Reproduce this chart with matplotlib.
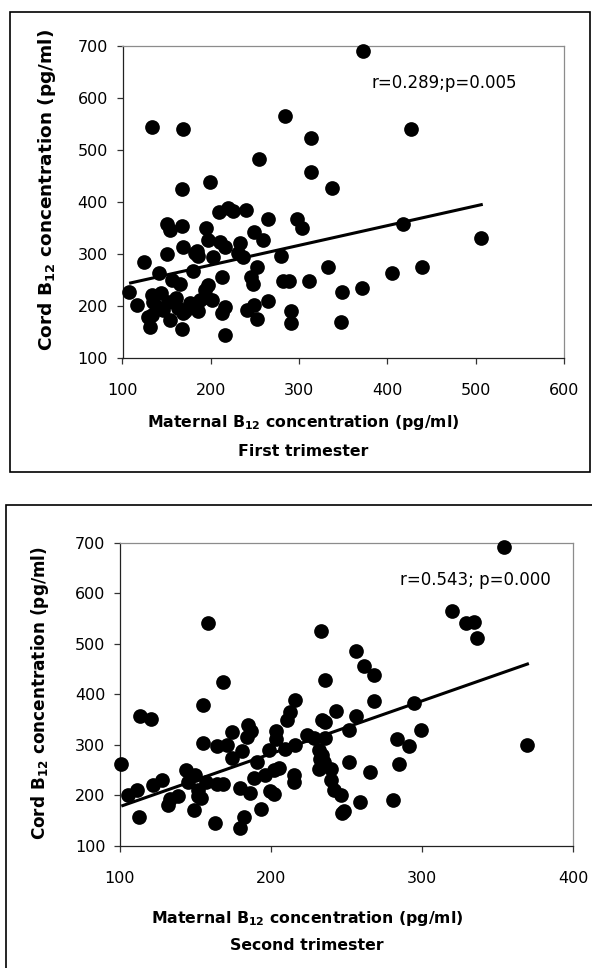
import matplotlib
matplotlib.use("Agg")
import matplotlib.pyplot as plt
from matplotlib.patches import Rectangle

# 第1三半期のデータ (maternal, cord)
first_maternal = [107.5, 116, 124, 133, 169, 141.7, 150, 150, 154, 167,
                  167, 169, 155.7, 165, 180, 182, 186, 195, 199, 197,
                  203, 209, 220, 225.5, 240, 210.5, 216, 233, 231, 236,
                  249, 259, 265, 255, 252, 246, 248, 213, 212.4, 216,
                  216, 240.6, 249, 252, 265, 280, 281.5, 288, 284, 290.5,
                  290.5, 298, 303, 311.5, 313, 314, 333, 337.6, 349, 348,
                  372, 426.7, 418, 505.6, 438.8, 405.6, 371.6, 131, 133, 135,
                  133, 138.7, 144, 146, 152, 153.8, 161, 163, 169, 167,
                  176.5, 186, 188, 193, 197, 201, 129, 170.8, 195, 184]
first_cord = [227, 202, 285, 543, 540, 264, 300, 357, 346, 353,
              424, 314, 250, 243, 267, 303, 297, 351, 439, 327,
              295, 380, 388, 382, 385, 324, 313, 321, 303, 295,
              343, 328, 367, 483, 275, 257, 243, 257, 186, 198,
              145, 193, 202, 175, 210, 296, 249, 249, 565, 190,
              167, 367, 351, 249, 522, 458, 275, 426, 228, 170,
              690, 540, 357, 331.5, 275, 263, 234, 161, 222, 209,
              183, 199, 225, 193, 209, 174, 215, 196, 186, 156,
              206, 191, 212, 231, 241, 212, 180, 190, 218, 305]
first_fit_x = [107.5, 508]
first_fit_y = [244, 395.5]
first_note = "r=0.289;p=0.005"

# 第2三半期のデータ
second_maternal = [100.9, 105.3, 111.5, 112.4, 113, 120.4, 122, 128, 132, 133,
                   138.6, 144, 149.6, 145, 148.7, 153.6, 151.7, 155, 155, 158,
                   168, 163, 164.5, 171, 174, 174, 157, 164, 168, 179.6,
                   182, 179.6, 186, 180.7, 185, 187, 184, 190.6, 188.4, 196.2,
                   199.5, 201.7, 193, 198.4, 203.5, 203, 209.5, 205, 201.7, 215,
                   215, 210.6, 212.8, 216, 216, 223.8, 228.3, 232.8, 236, 233.4,
                   236, 242.7, 236, 231.6, 234, 232.5, 235, 231.6, 239.4, 239.4,
                   241.6, 246, 246.7, 248, 256.5, 261.6, 268.2, 268.2, 256.5, 251.6,
                   251.6, 265.4, 259, 280.4, 283.3, 291, 284.4, 294.8, 299, 320,
                   328.7, 334, 336, 354, 369.5, 151.8]
second_cord = [263, 201, 211, 157, 358, 351, 221, 230, 181, 192,
               198, 250, 241, 226, 171, 195, 211, 304, 379, 542,
               424, 145, 297, 300, 325, 274, 226, 223, 223, 135,
               158, 214, 205, 287, 340, 328, 315, 267, 234, 241,
               208, 203, 173, 290, 327, 311, 292, 254, 251, 241,
               226, 350, 366, 388, 300, 320, 314, 525, 428, 350,
               345, 368, 313, 290, 280, 272, 266, 253, 253, 231,
               211, 201, 165, 170, 485, 456, 439, 386, 358, 330,
               266, 247, 188, 191, 312, 297, 262, 383, 330, 564,
               542, 544, 512, 692, 300, 198]
second_fit_x = [100.9, 370.6]
second_fit_y = [179, 461]
second_note = "r=0.543; p=0.000"

W, H = 592, 968
fig = plt.figure(figsize=(W / 100, H / 100), dpi=100)


def fx(px):
    return px / W


def fy(py):
    return 1 - py / H


def panel(rect, mx, cy, fit_x, fit_y, xmax, note, note_pos):
    l, t, r, b = rect
    ax = fig.add_axes([fx(l), fy(b), fx(r) - fx(l), fy(t) - fy(b)])
    ax.scatter(mx, cy, s=112, color="black", zorder=3, linewidths=0, clip_on=False)
    ax.plot(fit_x, fit_y, color="black", lw=2.2, zorder=4, solid_capstyle="butt")
    ax.set_xlim(100, xmax)
    ax.set_ylim(100, 700)
    ax.set_xticks(range(100, xmax + 1, 100))
    ax.set_yticks(range(100, 701, 100))
    ax.tick_params(direction="out", length=4, width=0.9, labelsize=11.5,
                   color="#333333")
    ax.tick_params(axis="x", pad=14)
    ax.tick_params(axis="y", pad=6.5)
    for side in ("left", "bottom"):
        ax.spines[side].set_color("#222222")
        ax.spines[side].set_linewidth(0.9)
    for side in ("top", "right"):
        ax.spines[side].set_color("#8c8c8c")
        ax.spines[side].set_linewidth(0.9)
    ax.text(note_pos[0], note_pos[1], note, fontsize=12, va="center", ha="left")
    return ax


label_x = r"Maternal $\mathbf{B_{12}}$ concentration (pg/ml)"
label_y = r"Cord $\mathbf{B_{12}}$ concentration (pg/ml)"

# 上のグラフ
fig.patches.append(Rectangle((fx(10), fy(471.7)), fx(590) - fx(10), fy(12) - fy(471.7),
                             transform=fig.transFigure, fill=False, ec="black", lw=1.2))
panel((122.5, 45.7, 564, 358.3), first_maternal, first_cord, first_fit_x, first_fit_y,
      600, first_note, (382, 628))
fig.text(fx(303), fy(423), label_x, ha="center", va="center", fontsize=11.3, fontweight="bold")
fig.text(fx(303), fy(451.5), "First trimester", ha="center", va="center", fontsize=11.3,
         fontweight="bold")
fig.text(fx(47), fy(190), label_y, ha="center", va="center", rotation=90, fontsize=13.3,
         fontweight="bold")

# 下のグラフ
fig.patches.append(Rectangle((fx(6), fy(980)), fx(600) - fx(6), fy(505) - fy(980),
                             transform=fig.transFigure, fill=False, ec="black", lw=1.2))
panel((120, 542.7, 573.3, 846), second_maternal, second_cord, second_fit_x, second_fit_y,
      400, second_note, (285, 627))
fig.text(fx(307), fy(918), label_x, ha="center", va="center", fontsize=11.3, fontweight="bold")
fig.text(fx(307), fy(946), "Second trimester", ha="center", va="center", fontsize=11.3,
         fontweight="bold")
fig.text(fx(40), fy(693), label_y, ha="center", va="center", rotation=90, fontsize=12.2,
         fontweight="bold")

fig.savefig("out.png", dpi=100)
